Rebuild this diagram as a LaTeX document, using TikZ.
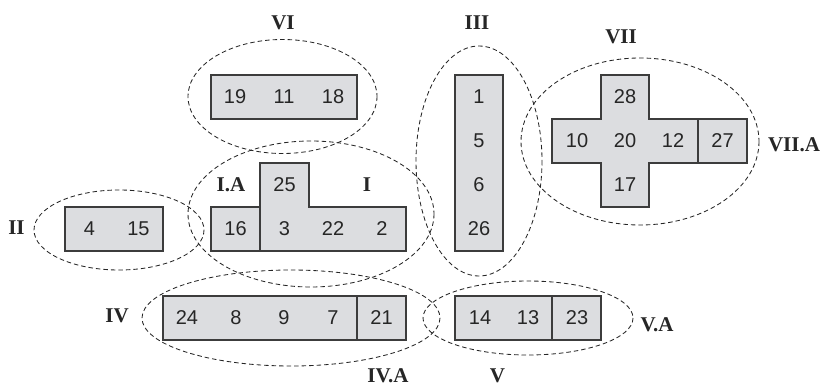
\documentclass[tikz,border=0pt]{standalone}
\usepackage{fontspec}
\setmainfont{Liberation Serif}
\newfontfamily\numfont{Liberation Sans}
\definecolor{cellfill}{RGB}{220,221,224}
\definecolor{cellline}{RGB}{60,60,60}
\begin{document}
\begin{tikzpicture}[x=1pt,y=-1pt,
  cellshape/.style={draw=cellline,fill=cellfill,line width=1.1pt},
  divider/.style={draw=cellline,line width=1.1pt},
  grp/.style={draw=black!85,dashed,dash pattern=on 4.5pt off 3pt,line width=0.85pt},
  num/.style={font=\numfont\fontsize{20}{22}\selectfont,text=black!85,inner sep=0pt},
  lab/.style={font=\bfseries\fontsize{21}{23}\selectfont,text=black!85,inner sep=0pt}]
\useasboundingbox (0,0) rectangle (821,387);
% ---- shapes ----
% VI
\draw[cellshape] (211,75) rectangle (357,119);
% II
\draw[cellshape] (65,207) rectangle (163,251);
% I
\draw[cellshape] (211,207) -- (260,207) -- (260,163) -- (309,163) -- (309,207) -- (406,207) -- (406,251) -- (211,251) -- cycle;
\draw[divider] (260,207) -- (260,251);
% III
\draw[cellshape] (455,75) rectangle (503,251);
% VII
\draw[cellshape] (601,75) -- (649,75) -- (649,119) -- (747,119) -- (747,163) -- (649,163) -- (649,207) -- (601,207) -- (601,163) -- (552,163) -- (552,119) -- (601,119) -- cycle;
\draw[divider] (698,119) -- (698,163);
% IV
\draw[cellshape] (163,296) rectangle (406,340);
\draw[divider] (357,296) -- (357,340);
% V
\draw[cellshape] (455,296) rectangle (601,340);
\draw[divider] (552,296) -- (552,340);
% ---- numbers ----
\node[num] (n19) at (235,97) {19};
\node[num] (n11) at (284,97) {11};
\node[num] (n18) at (333,97) {18};
\node[num] (n4) at (89.5,229) {4};
\node[num] (n15) at (138.5,229) {15};
\node[num] (n25) at (284.5,185) {25};
\node[num] (n16) at (235.5,229) {16};
\node[num] (n3) at (284.5,229) {3};
\node[num] (n22) at (333,229) {22};
\node[num] (n2) at (382,229) {2};
\node[num] (n1) at (479,97) {1};
\node[num] (n5) at (479,141) {5};
\node[num] (n6) at (479,185) {6};
\node[num] (n26) at (479,229) {26};
\node[num] (n28) at (625,97) {28};
\node[num] (n10) at (577,141) {10};
\node[num] (n20) at (625,141) {20};
\node[num] (n12) at (673,141) {12};
\node[num] (n27) at (722.5,141) {27};
\node[num] (n17) at (625,185) {17};
\node[num] (n24) at (187,318) {24};
\node[num] (n8) at (236,318) {8};
\node[num] (n9) at (284,318) {9};
\node[num] (n7) at (333,318) {7};
\node[num] (n21) at (381.5,318) {21};
\node[num] (n14) at (480,318) {14};
\node[num] (n13) at (528,318) {13};
\node[num] (n23) at (577,318) {23};
% ---- groups ----
\draw[grp] (282.5,96.5) ellipse [x radius=94.5, y radius=57];
\draw[grp] (119,230) ellipse [x radius=85, y radius=40];
\draw[grp] (311,214) ellipse [x radius=123, y radius=73];
\draw[grp] (479,161) ellipse [x radius=63, y radius=115];
\draw[grp] (640,141.5) ellipse [x radius=119, y radius=83.5];
\draw[grp] (291,318) ellipse [x radius=149, y radius=48];
\draw[grp] (528,318) ellipse [x radius=105, y radius=37];
% ---- labels ----
\node[lab] (lVI) at (283,23) {VI};
\node[lab] (lIII) at (477,23) {III};
\node[lab] (lVII) at (621,37) {VII};
\node[lab] (lVIIA) at (794,145) {VII.A};
\node[lab] (lIA) at (231,185) {I.A};
\node[lab] (lI) at (367,185) {I};
\node[lab] (lII) at (16.5,228) {II};
\node[lab] (lIV) at (117,316) {IV};
\node[lab] (lIVA) at (388,376) {IV.A};
\node[lab] (lV) at (497.5,376) {V};
\node[lab] (lVA) at (657,325) {V.A};
\end{tikzpicture}
\end{document}
